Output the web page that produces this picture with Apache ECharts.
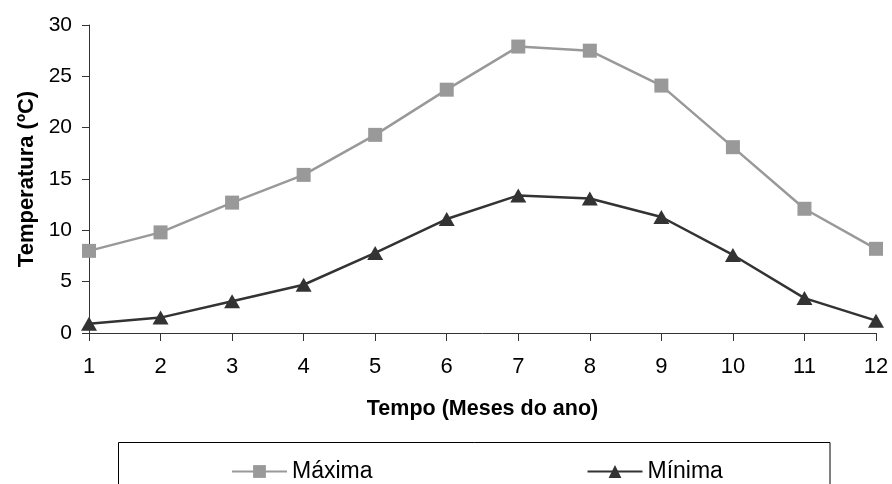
<!DOCTYPE html>
<html><head><meta charset="utf-8">
<script src="https://cdn.jsdelivr.net/npm/echarts@6/dist/echarts.min.js"></script>
<style>html,body{margin:0;padding:0;background:#fff}#c{width:892px;height:484px}</style>
</head><body><div id="c"></div>
<script>
const months = ['1','2','3','4','5','6','7','8','9','10','11','12'];
const maxima = [8.0, 9.8, 12.7, 15.4, 19.3, 23.7, 27.9, 27.5, 24.1, 18.1, 12.1, 8.2];
const minima = [0.9, 1.5, 3.1, 4.7, 7.8, 11.1, 13.4, 13.1, 11.3, 7.6, 3.4, 1.2];
const yTicks = [0, 5, 10, 15, 20, 25, 30];
const F = '"Liberation Sans", Arial, sans-serif';
const chart = echarts.init(document.getElementById('c'), null, {renderer:'canvas'});
chart.setOption({
  animation:false,
  backgroundColor:'#fff',
  textStyle:{fontFamily:F},
  grid:{left:89, right:16, top:25, bottom:151, containLabel:false},
  graphic:[{type:'rect', shape:{x:118.5, y:442.5, width:711.5, height:80}, style:{fill:'none', stroke:'#000', lineWidth:1}}],
  legend:{
    left:226, top:455, itemWidth:55, itemHeight:16, itemGap:214,
    textStyle:{fontFamily:F, fontSize:23, color:'#000'},
    data:['Máxima','Mínima']
  },
  xAxis:{
    type:'category', data:months, boundaryGap:false,
    name:'Tempo (Meses do ano)', nameLocation:'middle', nameGap:65,
    nameTextStyle:{fontFamily:F, fontSize:21.5, fontWeight:'bold', color:'#000'},
    axisLine:{lineStyle:{color:'#333', width:1}},
    axisTick:{alignWithLabel:true, length:8, lineStyle:{color:'#333'}},
    axisLabel:{fontFamily:F, fontSize:22, color:'#000', margin:23}
  },
  yAxis:{
    type:'value', min:yTicks[0], max:yTicks[yTicks.length-1], interval:5,
    name:'Temperatura (ºC)', nameLocation:'middle', nameGap:48,
    nameTextStyle:{fontFamily:F, fontSize:22, fontWeight:'bold', color:'#000'},
    axisLine:{show:true, lineStyle:{color:'#333', width:1}},
    axisTick:{show:true, length:7, lineStyle:{color:'#333'}},
    splitLine:{show:false},
    axisLabel:{fontFamily:F, fontSize:21, color:'#000', margin:17}
  },
  series:[
    {name:'Máxima', type:'line', data:maxima, symbol:'rect', symbolSize:14,
     lineStyle:{color:'#999', width:2.5}, itemStyle:{color:'#999'}},
    {name:'Mínima', type:'line', data:minima, symbol:'triangle', symbolSize:[16,14],
     lineStyle:{color:'#333', width:2.5}, itemStyle:{color:'#333'}}
  ]
});
</script></body></html>
